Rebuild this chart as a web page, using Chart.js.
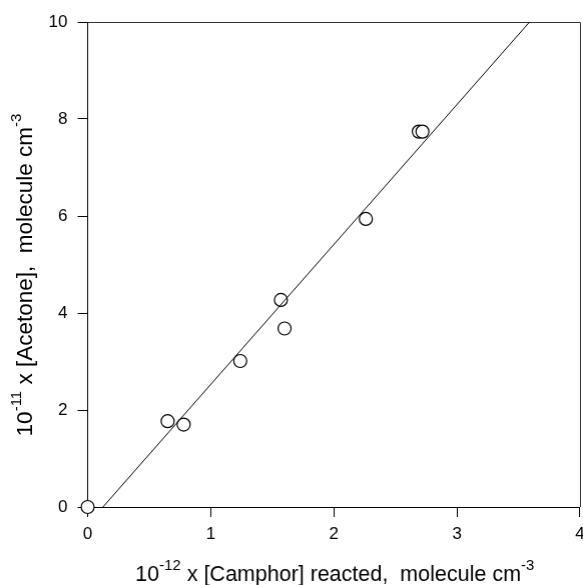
<!DOCTYPE html>
<html>
<head>
<meta charset="utf-8">
<script src="https://cdn.jsdelivr.net/npm/chart.js@4/dist/chart.umd.min.js"></script>
<style>
  html, body { margin: 0; padding: 0; background: #fff; overflow: hidden; }
  #wrap { width: 583px; height: 585px; }
</style>
</head>
<body>
<div id="wrap"><canvas id="chart"></canvas></div>
<script>
// measured points: camphor reacted (1e12) vs acetone formed (1e11)
const camphorX = [0, 0.65, 0.78, 1.24, 1.57, 1.60, 2.26, 2.69, 2.72];
const acetoneY = [0, 1.77, 1.70, 3.01, 4.27, 3.68, 5.94, 7.74, 7.74];

// fitted line end points
const fitX = [0.124, 3.59];
const fitY = [0, 10];

const xTicks = [0, 1, 2, 3, 4];
const yTicks = [0, 2, 4, 6, 8, 10];

const FONT = '"Liberation Sans", Arial, sans-serif';

// text with superscripts: parts = [[text, isSup], ...]
function drawRich(ctx, parts, x, y, size) {
    const supSize = Math.round(size * 0.68);
    let total = 0;
    parts.forEach(p => {
        ctx.font = (p[1] ? supSize : size) + 'px ' + FONT;
        total += ctx.measureText(p[0]).width;
    });
    let cx = x - total / 2;
    parts.forEach(p => {
        ctx.font = (p[1] ? supSize : size) + 'px ' + FONT;
        ctx.fillText(p[0], cx, p[1] ? y - size * 0.5 : y);
        cx += ctx.measureText(p[0]).width;
    });
}

const framePlugin = {
    id: 'frame',
    beforeDatasetsDraw(chart) {
        const a = chart.chartArea;
        const ctx = chart.ctx;
        ctx.save();
        ctx.strokeStyle = '#333';
        ctx.lineWidth = 1;
        ctx.beginPath();
        ctx.moveTo(a.left, a.top + 0.5);
        ctx.lineTo(a.right + 0.5, a.top + 0.5);
        ctx.lineTo(a.right + 0.5, a.bottom);
        ctx.stroke();
        ctx.restore();
    },
    afterDraw(chart) {
        const a = chart.chartArea;
        const ctx = chart.ctx;
        ctx.save();
        ctx.fillStyle = '#000';
        ctx.textBaseline = 'alphabetic';
        // x title
        drawRich(ctx, [['10', false], ['-12', true], [' x [Camphor] reacted,  molecule cm', false], ['-3', true]],
            (a.left + a.right) / 2 + 1, 581, 21.5);
        // y title
        ctx.translate(32, 275);
        ctx.rotate(-Math.PI / 2);
        drawRich(ctx, [['10', false], ['-11', true], [' x [Acetone],  molecule cm', false], ['-3', true]],
            0, 0, 22.5);
        ctx.restore();
    }
};

const chart = new Chart(document.getElementById('chart'), {
    type: 'scatter',
    data: {
        datasets: [
            {
                type: 'line',
                data: fitX.map((x, i) => ({ x: x, y: fitY[i] })),
                borderColor: '#000',
                borderWidth: 1,
                pointRadius: 0,
                fill: false,
                order: 0
            },
            {
                data: camphorX.map((x, i) => ({ x: x, y: acetoneY[i] })),
                pointStyle: 'circle',
                pointRadius: 6.5,
                pointBorderWidth: 1.2,
                pointBorderColor: '#000',
                pointBackgroundColor: '#fff',
                clip: false,
                order: 1
            }
        ]
    },
    options: {
        responsive: true,
        maintainAspectRatio: false,
        animation: false,
        layout: { padding: { top: 22, right: 0, left: 0, bottom: 0 } },
        plugins: { legend: { display: false }, tooltip: { enabled: false } },
        scales: {
            x: {
                type: 'linear',
                min: 0, max: 4,
                afterBuildTicks: s => { s.ticks = xTicks.map(v => ({ value: v })); },
                afterFit: s => { s.height = 78; },
                grid: { drawOnChartArea: false, drawTicks: true, tickLength: 10, color: '#000' },
                border: { color: '#000', width: 1 },
                ticks: { color: '#000', font: { family: FONT, size: 17 }, padding: 7, maxRotation: 0 }
            },
            y: {
                type: 'linear',
                min: 0, max: 10,
                afterBuildTicks: s => { s.ticks = yTicks.map(v => ({ value: v })); },
                afterFit: s => { s.width = 87.5; },
                grid: { drawOnChartArea: false, drawTicks: true, tickLength: 10, color: '#000' },
                border: { color: '#000', width: 1 },
                ticks: { color: '#000', font: { family: FONT, size: 17 }, padding: 10 }
            }
        }
    },
    plugins: [framePlugin]
});

// the right-hand tick label reserves space; widen the canvas past the window so x=4 sits at 579
const shift = 579 - chart.chartArea.right;
if (Math.abs(shift) > 0.2) {
    document.getElementById('wrap').style.width = (583 + shift) + 'px';
    chart.resize();
}
</script>
</body>
</html>
